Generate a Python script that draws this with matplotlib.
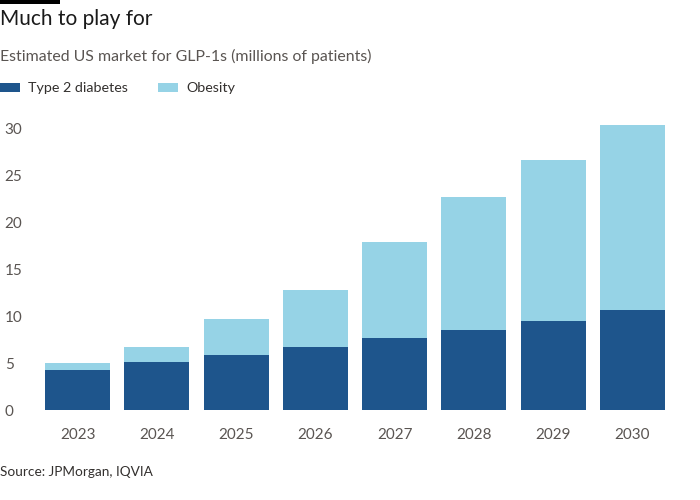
import matplotlib.pyplot as plt
from matplotlib.patches import Rectangle

years = ['2023', '2024', '2025', '2026', '2027', '2028', '2029', '2030']
diabetes = [4.3, 5.1, 5.9, 6.7, 7.7, 8.5, 9.5, 10.7]
total = [5.0, 6.7, 9.7, 12.8, 17.9, 22.7, 26.7, 30.4]
obesity = [t - d for t, d in zip(total, diabetes)]
yticks = [0, 5, 10, 15, 20, 25, 30]

dark = '#1e558c'
light = '#96d3e6'
grey = '#5a5552'

plt.rcParams['font.family'] = ['Lato', 'DejaVu Sans']

fig = plt.figure(figsize=(7, 5), dpi=100)
fig.patch.set_facecolor('white')
ax = fig.add_axes([38 / 700, 0.18, 634 / 700, 31 * 9.37 / 500])

x = range(len(years))
ax.bar(x, diabetes, width=0.82, color=dark, label='Type 2 diabetes')
ax.bar(x, obesity, width=0.82, bottom=diabetes, color=light, label='Obesity')

ax.set_xlim(-0.5, len(years) - 0.5)
ax.set_ylim(0, 31)
ax.set_xticks(list(x))
ax.set_xticklabels(years)
ax.set_yticks(yticks)
for s in ax.spines.values():
    s.set_visible(False)
ax.tick_params(axis='both', length=0, labelsize=11, labelcolor=grey)
ax.tick_params(axis='x', pad=13)
ax.tick_params(axis='y', pad=24)
for lab in ax.get_yticklabels():
    lab.set_horizontalalignment('left')

# header
fig.add_artist(Rectangle((0, 1 - 4 / 500), 60 / 700, 4 / 500, transform=fig.transFigure,
                         color='black', lw=0))
fig.text(0, 1 - 19 / 500, 'Much to play for', fontsize=15, color='#1a1a1a', va='center')
fig.text(0, 1 - 56 / 500, 'Estimated US market for GLP-1s (millions of patients)',
         fontsize=11.4, color=grey, va='center')

# legend
fig.add_artist(Rectangle((0, 1 - 92 / 500), 20 / 700, 9 / 500, transform=fig.transFigure,
                         color=dark, lw=0))
fig.text(28 / 700, 1 - 88 / 500, 'Type 2 diabetes', fontsize=10.3, color='#33302e', va='center')
fig.add_artist(Rectangle((158 / 700, 1 - 92 / 500), 20 / 700, 9 / 500, transform=fig.transFigure,
                         color=light, lw=0))
fig.text(186 / 700, 1 - 88 / 500, 'Obesity', fontsize=10.3, color='#33302e', va='center')

fig.text(0, 1 - 472 / 500, 'Source: JPMorgan, IQVIA', fontsize=9.8, color='#33302e', va='center')

fig.savefig('out.png', dpi=100)
